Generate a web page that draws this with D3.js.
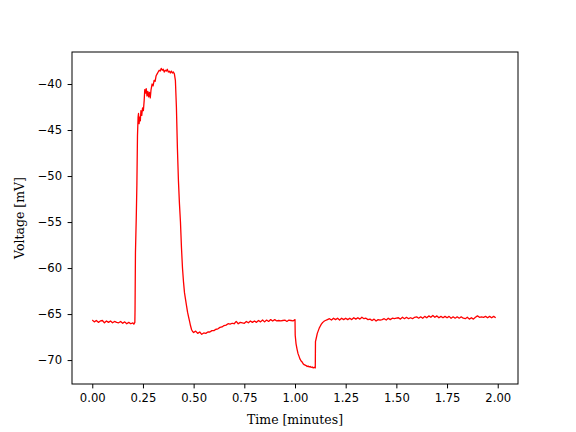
<!DOCTYPE html>
<html><head><meta charset="utf-8">
<script src="https://cdn.jsdelivr.net/npm/d3@7"></script>
<style>body{margin:0;background:#fff}svg{display:block}</style>
</head><body>
<svg id="c" width="576" height="432"></svg>
<script>
const time = [0.00,0.01,0.02,0.03,0.04,0.05,0.06,0.07,0.08,0.09,0.10,0.11,0.12,0.13,0.14,0.15,0.16,0.17,0.18,0.19,0.20,0.205,0.21,
0.211,0.213,0.217,0.220,0.223,0.226,0.228,0.231,0.234,0.237,0.240,0.244,0.248,0.252,0.256,0.259,0.262,0.266,0.270,0.274,0.278,0.282,0.286,0.290,0.295,0.300,0.305,0.310,0.315,0.320,0.325,0.330,0.335,0.340,0.345,0.350,0.355,0.360,0.365,0.370,0.375,0.380,0.385,0.390,0.395,0.400,0.405,0.410,0.415,0.420,0.425,0.430,0.435,0.440,0.445,0.450,0.455,0.460,0.465,0.470,0.475,0.480,0.485,0.490,0.495,0.500,
0.51,0.52,0.53,0.54,0.55,0.56,0.57,0.58,0.59,0.60,0.61,0.62,0.63,0.64,0.65,0.66,0.67,0.68,0.69,0.70,0.71,0.72,0.73,0.74,0.75,0.76,0.77,0.78,0.79,0.80,0.81,0.82,0.83,0.84,0.85,0.86,0.87,0.88,0.89,0.90,0.91,0.92,0.93,0.94,0.95,0.96,0.97,0.98,0.99,1.00,
1.001,1.005,1.010,1.015,1.020,1.025,1.030,1.035,1.040,1.045,1.050,1.055,1.060,1.065,1.070,1.075,1.080,1.085,1.090,1.095,1.100,
1.101,1.105,1.110,1.115,1.120,1.125,1.130,1.135,1.140,1.145,1.150,1.160,1.17,1.18,1.19,1.20,1.21,1.22,1.23,1.24,1.25,1.26,1.27,1.28,1.29,1.30,1.31,1.32,1.33,1.34,1.35,1.36,1.37,1.38,1.39,1.40,1.41,1.42,1.43,1.44,1.45,1.46,1.47,1.48,1.49,1.50,1.51,1.52,1.53,1.54,1.55,1.56,1.57,1.58,1.59,1.60,1.61,1.62,1.63,1.64,1.65,1.66,1.67,1.68,1.69,1.70,1.71,1.72,1.73,1.74,1.75,1.76,1.77,1.78,1.79,1.80,1.81,1.82,1.83,1.84,1.85,1.86,1.87,1.88,1.89,1.90,1.91,1.92,1.93,1.94,1.95,1.96,1.97,1.98,1.99,2.00];

const voltage = [-65.65,-65.85,-65.7,-65.9,-65.75,-65.7,-65.95,-65.75,-65.9,-65.75,-65.95,-65.8,-65.9,-65.95,-65.8,-66.0,-65.85,-66.05,-65.9,-66.05,-65.95,-66.1,-65.9,
-64.5,-58.3,-54.5,-51.0,-45.6,-43.6,-43.2,-44.3,-43.6,-44.0,-42.9,-43.4,-42.6,-42.9,-41.8,-40.6,-41.0,-40.5,-41.3,-40.8,-41.4,-40.9,-41.5,-40.6,-40.0,-40.2,-39.6,-39.7,-39.1,-38.9,-38.7,-38.5,-38.6,-38.3,-38.5,-38.4,-38.7,-38.5,-38.6,-38.4,-38.7,-38.6,-38.8,-38.6,-38.8,-38.7,-38.9,-39.6,-42.5,-47.0,-50.5,-53.0,-55.0,-57.8,-60.0,-61.5,-62.7,-63.4,-64.1,-64.8,-65.3,-65.8,-66.3,-66.7,-66.9,-67.0,
-66.85,-67.1,-66.95,-67.2,-67.05,-67.1,-66.95,-66.95,-66.8,-66.8,-66.65,-66.6,-66.45,-66.4,-66.25,-66.2,-66.05,-66.1,-66.0,-66.05,-65.8,-66.05,-65.9,-65.95,-66.0,-65.8,-65.95,-65.75,-65.9,-65.75,-65.9,-65.7,-65.85,-65.65,-65.85,-65.65,-65.8,-65.6,-65.75,-65.6,-65.75,-65.7,-65.75,-65.7,-65.65,-65.8,-65.65,-65.7,-65.75,-65.6,
-67.3,-68.2,-68.8,-69.3,-69.6,-69.9,-70.1,-70.2,-70.4,-70.5,-70.55,-70.6,-70.7,-70.65,-70.75,-70.7,-70.8,-70.75,-70.85,-70.8,-70.85,
-68.0,-67.6,-67.1,-66.8,-66.5,-66.3,-66.1,-65.95,-65.85,-65.75,-65.7,-65.6,-65.5,-65.65,-65.45,-65.6,-65.45,-65.65,-65.45,-65.6,-65.45,-65.6,-65.45,-65.6,-65.4,-65.55,-65.4,-65.55,-65.35,-65.5,-65.45,-65.6,-65.55,-65.7,-65.55,-65.75,-65.6,-65.65,-65.6,-65.5,-65.65,-65.45,-65.6,-65.45,-65.5,-65.45,-65.4,-65.55,-65.35,-65.5,-65.35,-65.5,-65.4,-65.5,-65.35,-65.3,-65.45,-65.3,-65.45,-65.25,-65.4,-65.2,-65.35,-65.15,-65.35,-65.2,-65.4,-65.25,-65.4,-65.25,-65.4,-65.25,-65.45,-65.3,-65.45,-65.3,-65.45,-65.3,-65.45,-65.5,-65.35,-65.55,-65.4,-65.55,-65.35,-65.2,-65.35,-65.3,-65.35,-65.25,-65.4,-65.25,-65.4,-65.25,-65.4];

const xTicks = [0.00,0.25,0.50,0.75,1.00,1.25,1.50,1.75,2.00];
const yTicks = [-70,-65,-60,-55,-50,-45,-40];

const svg = d3.select("#c");
const L=72, R=518, T=52, B=384;
const x = d3.scaleLinear().domain([-0.1,2.1]).range([L,R]);
const y = d3.scaleLinear().domain([-72.6,-36.52]).range([B,T]);

const data = time.map((t,i)=>[t,voltage[i]]);
svg.append("path").datum(data)
  .attr("fill","none").attr("stroke","#ff0000").attr("stroke-width",1.3)
  .attr("stroke-linejoin","round")
  .attr("d", d3.line().x(d=>x(d[0])).y(d=>y(d[1])));

const xa = svg.append("g").attr("transform",`translate(0,${B})`)
  .call(d3.axisBottom(x).tickValues(xTicks).tickFormat(d3.format(".2f")).tickSize(4.4).tickPadding(5.5));
const ya = svg.append("g").attr("transform",`translate(${L},0)`)
  .call(d3.axisLeft(y).tickValues(yTicks).tickFormat(d=>"\u2212"+Math.abs(d)).tickSize(4.4).tickPadding(5.5));
[xa,ya].forEach(a=>{
  a.select(".domain").remove();
  a.selectAll("line").attr("stroke","#000").attr("stroke-width",1);
  a.selectAll("text").attr("font-family","DejaVu Sans").attr("font-size",11.6).attr("fill","#000");
});
svg.append("rect").attr("x",L).attr("y",T).attr("width",R-L).attr("height",B-T)
  .attr("fill","none").attr("stroke","#000").attr("stroke-width",1);

svg.append("text").attr("x",(L+R)/2).attr("y",424).attr("text-anchor","middle")
  .attr("font-family","DejaVu Serif").attr("font-size",12.5).text("Time [minutes]");
svg.append("text").attr("transform",`translate(24,${(T+B)/2}) rotate(-90)`).attr("text-anchor","middle")
  .attr("font-family","DejaVu Serif").attr("font-size",12.5).text("Voltage [mV]");
</script>
</body></html>
